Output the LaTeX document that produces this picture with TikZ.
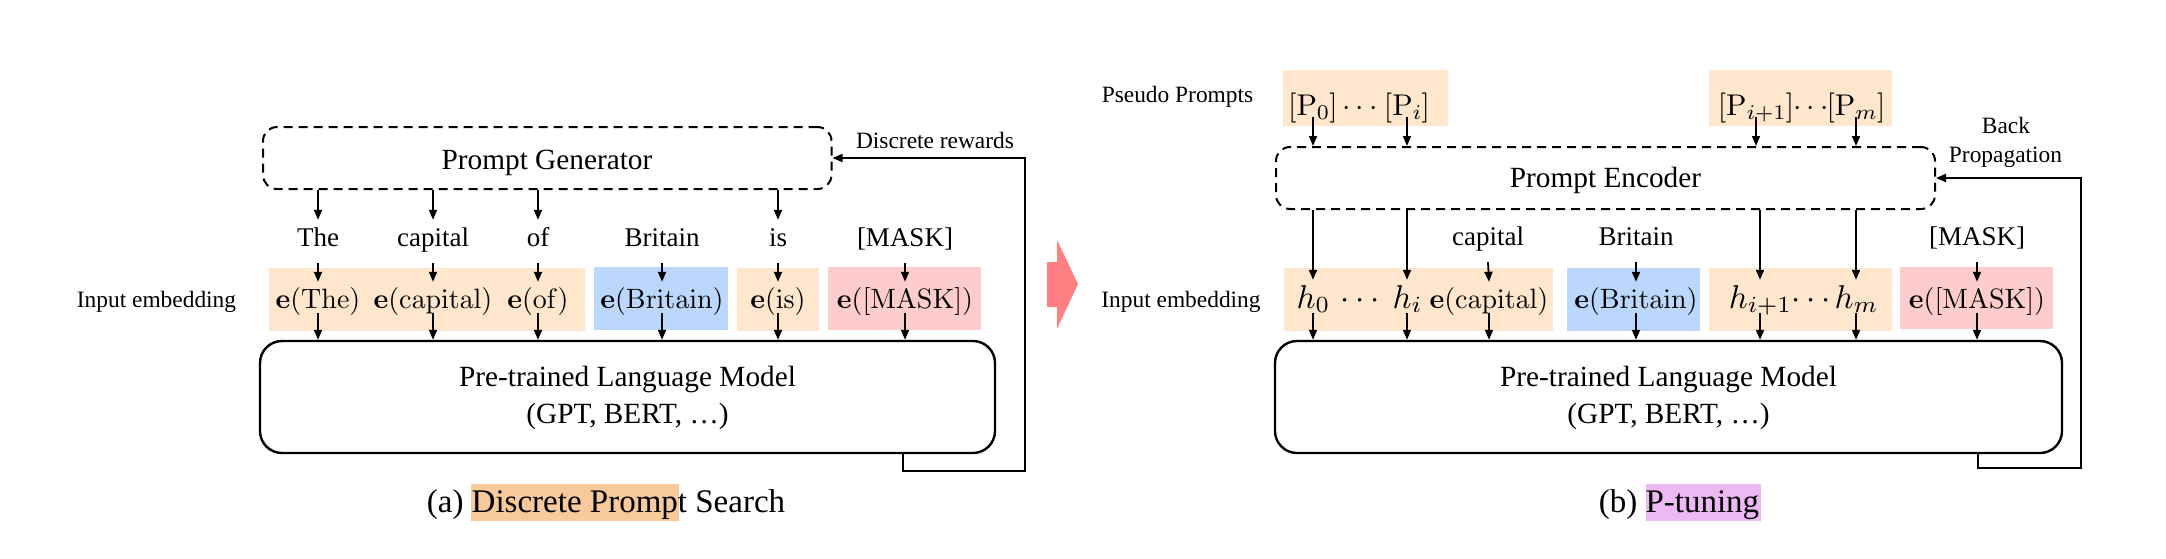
\RequirePackage{fix-cm}
\documentclass[tikz,border=0pt]{standalone}
\usepackage[no-math]{fontspec}
\setmainfont{Liberation Serif}
\usetikzlibrary{arrows.meta,calc}
\DeclareFontShape{OT1}{cmr}{m}{n}{<-24>cmr7 <24->cmr10}{}
\DeclareFontShape{OT1}{cmr}{bx}{n}{<->cmbx10}{}
\DeclareFontShape{OML}{cmm}{m}{it}{<-24>cmmi7 <24->cmmi10}{}
\DeclareFontShape{OMS}{cmsy}{m}{n}{<-24>cmsy7 <24->cmsy10}{}
\definecolor{embor}{HTML}{FFE6CC}
\definecolor{embbl}{HTML}{BBD7FC}
\definecolor{embrd}{HTML}{FFCCCC}
\definecolor{capor}{HTML}{F7C99B}
\definecolor{capvi}{HTML}{EEB8F4}
\definecolor{bigar}{HTML}{FF8080}
\newcommand\fbig{\fontsize{29.3}{34}\selectfont}
\newcommand\fwd{\fontsize{27}{32}\selectfont}
\newcommand\femb{\fontsize{28}{33}\selectfont}
\newcommand\fhh{\fontsize{33}{38}\selectfont}
\newcommand\fpp{\fontsize{30}{35}\selectfont}
\newcommand\fsm{\fontsize{23.4}{28}\selectfont}
\newcommand\fcap{\fontsize{33}{38}\selectfont}
\begin{document}
\begin{tikzpicture}[x=1pt,y=-1pt,
  arr/.style={line width=1.8pt,-{Triangle[length=10pt,width=8pt]}},
  dbox/.style={draw,line width=2pt,dash pattern=on 9pt off 6pt,rounded corners=14pt,inner sep=0pt},
  lmbox/.style={draw,line width=2.4pt,rounded corners=22pt,inner sep=0pt},
  cbox/.style={inner sep=0pt,draw=none},
  txt/.style={anchor=base,inner sep=0pt},
  word/.style={anchor=base,font=\fwd,text height=22pt,text depth=13pt,inner xsep=0pt,inner ysep=4pt},
  emb/.style={anchor=base,font=\femb,text height=24pt,text depth=3pt,inner xsep=0pt,inner ysep=2pt},
  hh/.style={anchor=base,font=\fhh,text height=26pt,text depth=3pt,inner xsep=0pt,inner ysep=2pt},
  pp/.style={anchor=base,font=\fpp,text height=20pt,text depth=2pt,inner sep=0pt}]
\useasboundingbox (0,0) rectangle (2166,558);

% ---------- left panel ----------
\node[dbox,minimum width=568.5pt,minimum height=62pt] (pg) at (547.25,158) {};
\node[txt,font=\fbig] (pgt) at (547,169) {Prompt Generator};
\node[lmbox,minimum width=735pt,minimum height=112pt] (lmA) at (627.5,397) {};
\node[txt,font=\fbig] (lmA1) at (627.5,386) {Pre-trained Language Model};
\node[txt,font=\fbig] (lmA2) at (627.5,423) {(GPT, BERT, \ldots)};

\node[cbox,fill=embor,minimum width=316pt,minimum height=63pt] (a1) at (427,299.5) {};
\node[cbox,fill=embbl,minimum width=134pt,minimum height=63pt] (a2) at (661,298.5) {};
\node[cbox,fill=embor,minimum width=81.5pt,minimum height=63pt] (a3) at (777.75,299.5) {};
\node[cbox,fill=embrd,minimum width=152.5pt,minimum height=63pt] (a4) at (904.25,298.5) {};

\node[txt,font=\fsm] (ieA) at (156.5,307) {Input embedding};
\node[txt,font=\fsm] (dr) at (935,148) {Discrete rewards};

\node[word] (w1) at (318,246) {The};
\node[word] (w2) at (433,246) {capital};
\node[word] (w3) at (538,246) {of};
\node[word] (w4) at (662,246) {Britain};
\node[word] (w5) at (778,246) {is};
\node[word] (w6) at (905,246) {[MASK]};

\node[emb] (e1) at (318,308) {$\mathbf{e}(\mathrm{The})$};
\node[emb] (e2) at (433,308) {$\mathbf{e}(\mathrm{capital})$};
\node[emb] (e3) at (538,308) {$\mathbf{e}(\mathrm{of})$};
\node[emb] (e4) at (662,308) {$\mathbf{e}(\mathrm{Britain})$};
\node[emb] (e5) at (778,308) {$\mathbf{e}(\mathrm{is})$};
\node[emb] (e6) at (905,308) {$\mathbf{e}([\mathrm{MASK}])$};

\foreach \i in {1,2,3,5} {\draw[arr] (pg.south -| w\i) -- (w\i.north);}
\foreach \i in {1,...,6} {
  \draw[arr] (w\i.south) -- (e\i.north);
  \draw[arr] (e\i.south) -- (e\i.south |- lmA.north);
}
\coordinate (fa) at (903,471);
\coordinate (fa2) at (1025,158);
\draw[line width=1.8pt,-{Triangle[length=10pt,width=8pt]}] (lmA.south -| fa) -- (fa) -| (fa2) -- (pg.east);

\fill[capor] (471,484) rectangle (679,521);
\node[txt,font=\fcap] (capA) at (606,512) {(a) Discrete Prompt Search};

% ---------- big arrow ----------
\fill[bigar] (1047,262) -- (1057,262) -- (1057,240) -- (1078,284) -- (1057,329) -- (1057,307) -- (1047,307) -- cycle;

% ---------- right panel ----------
\node[cbox,fill=embor,minimum width=165pt,minimum height=56pt] (p1) at (1365.5,98) {};
\node[cbox,fill=embor,minimum width=183pt,minimum height=56pt] (p2) at (1800.5,98) {};
\node[txt,font=\fsm] (pseudo) at (1177.5,102) {Pseudo Prompts};
\node[pp] (P0) at (1313,115) {$[\mathrm{P}_0]$};
\node[pp] (Pd1) at (1360,115) {$\cdots$};
\node[pp] (Pi) at (1407,115) {$[\mathrm{P}_i]$};
\node[pp] (Pi1) at (1756,115) {$[\mathrm{P}_{i+1}]$};
\node[pp] (Pd2) at (1811,115) {$\cdots$};
\node[pp] (Pm) at (1856,115) {$[\mathrm{P}_m]$};

\node[dbox,minimum width=659pt,minimum height=62pt] (pe) at (1605.5,178) {};
\node[txt,font=\fbig] (pet) at (1605.5,187) {Prompt Encoder};
\node[txt,font=\fsm] (bp1) at (2006,133) {Back};
\node[txt,font=\fsm] (bp2) at (2005.5,162) {Propagation};

\node[lmbox,minimum width=787pt,minimum height=112pt] (lmB) at (1668.5,397) {};
\node[txt,font=\fbig] (lmB1) at (1668.5,386) {Pre-trained Language Model};
\node[txt,font=\fbig] (lmB2) at (1668.5,423) {(GPT, BERT, \ldots)};

\node[cbox,fill=embor,minimum width=269pt,minimum height=63pt] (b1) at (1418.5,299.5) {};
\node[cbox,fill=embbl,minimum width=133pt,minimum height=63pt] (b2) at (1633.5,299) {};
\node[cbox,fill=embor,minimum width=183pt,minimum height=63pt] (b3) at (1800.5,299.5) {};
\node[cbox,fill=embrd,minimum width=153pt,minimum height=62pt] (b4) at (1976.5,298) {};

\node[txt,font=\fsm] (ieB) at (1181,307) {Input embedding};

\node[word] (v1) at (1488,245) {capital};
\node[word] (v2) at (1636,245) {Britain};
\node[word] (v3) at (1977,245) {[MASK]};

\node[hh] (h0) at (1313,308) {$h_0$};
\node[hh] (hd1) at (1360,308) {$\cdots$};
\node[hh] (hi) at (1407,308) {$h_i$};
\node[hh] (hi1) at (1760,308) {$h_{i+1}$};
\node[hh] (hd2) at (1811,308) {$\cdots$};
\node[hh] (hm) at (1856,308) {$h_m$};
\node[emb] (f1) at (1489,308) {$\mathbf{e}(\mathrm{capital})$};
\node[emb] (f2) at (1636,308) {$\mathbf{e}(\mathrm{Britain})$};
\node[emb] (f3) at (1977,308) {$\mathbf{e}([\mathrm{MASK}])$};

\foreach \n in {P0,Pi,Pi1,Pm} {\draw[arr] (\n.south) -- (pe.north -| \n);}
\foreach \n in {h0,hi,hi1,hm} {
  \draw[arr] (pe.south -| \n) -- (\n.north);
  \draw[arr] (\n.south) -- (\n.south |- lmB.north);
}
\foreach \i in {1,2,3} {
  \draw[arr] (v\i.south) -- (f\i.north);
  \draw[arr] (f\i.south) -- (f\i.south |- lmB.north);
}
\coordinate (fb) at (1978,468);
\coordinate (fb2) at (2081,178);
\draw[line width=1.8pt,-{Triangle[length=10pt,width=8pt]}] (lmB.south -| fb) -- (fb) -| (fb2) -- (pe.east);

\fill[capvi] (1646,484) rectangle (1761,521);
\node[txt,font=\fcap] (capB) at (1679,512) {(b) P-tuning};
\end{tikzpicture}
\end{document}
